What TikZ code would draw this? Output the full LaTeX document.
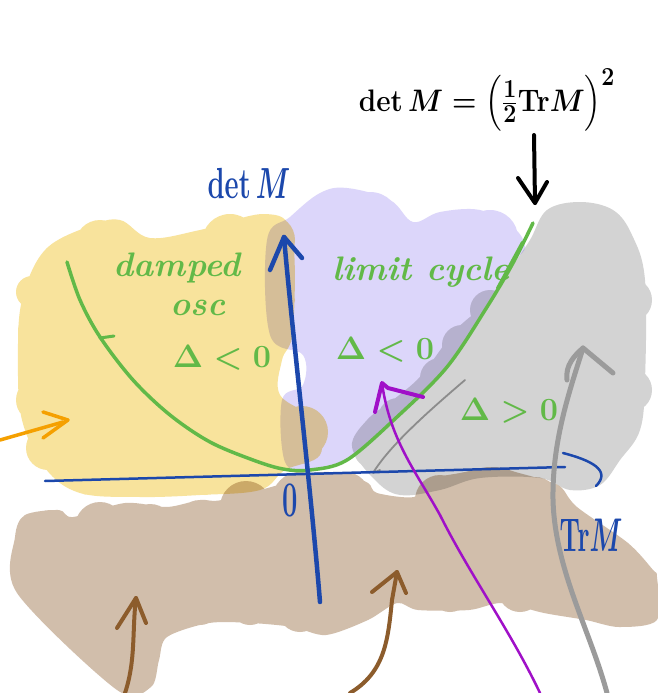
\documentclass[tikz,border=0pt]{standalone}
\usepackage{amsmath}
\usepackage{graphicx}
\definecolor{yelc}{RGB}{248,227,156}
\definecolor{lavc}{RGB}{220,214,250}
\definecolor{grayc}{RGB}{211,211,211}
\definecolor{tanc}{RGB}{209,190,171}
\definecolor{greenc}{RGB}{98,185,72}
\definecolor{bluec}{RGB}{28,72,172}
\definecolor{purplec}{RGB}{160,16,200}
\definecolor{orangec}{RGB}{245,160,0}
\definecolor{brownc}{RGB}{140,92,44}
\definecolor{arrgray}{RGB}{155,155,155}
\definecolor{thingray}{RGB}{140,140,140}
\tikzset{
  blob/.style={blend mode=multiply},
  stroke/.style={line cap=round, line join=round},
  glabel/.style={text=greenc, font=\fontsize{34}{34}\selectfont\bfseries\itshape, inner sep=0pt},
  gmath/.style={text=greenc, font=\Huge\boldmath, inner sep=0pt},
  blabel/.style={text=bluec, font=\Huge\boldmath, inner sep=0pt}
}
\begin{document}
\begin{tikzpicture}[x=1pt,y=-1pt]
\useasboundingbox (0,0) rectangle (657,693);
\fill[white] (0,0) rectangle (657,693);
% ---------- yellow blob
\fill[yelc, blob] plot[smooth cycle, tension=0.6] coordinates {
  (45,250) (90,226) (120,220) (150,238) (200,230) (265,214) (292,235) (293,330)
  (282,360) (280,395) (315,420) (320,455) (285,470) (260,490) (200,495) (140,497)
  (80,493) (45,468) (22,420) (18,360) (22,300)}
  (100,245) circle[radius=25] (230,242) circle[radius=28] (270,240) circle[radius=25]
  (40,330) circle[radius=22] (38,400) circle[radius=22] (90,470) circle[radius=25]
  (150,473) circle[radius=24] (205,472) circle[radius=23] (302,432) circle[radius=26]
  (283,300) circle[radius=12] (32,292) circle[radius=16] (48,448) circle[radius=22];
% ---------- lavender blob
\fill[lavc, blob] plot[smooth cycle, tension=0.6] coordinates {
  (290,217) (320,193) (347,188) (390,200) (413,222) (440,212) (480,210) (513,227)
  (525,247) (513,263) (487,307) (447,367) (397,417) (347,460) (310,470) (285,462)
  (282,400) (303,385) (303,355) (270,335) (267,240)}
  (330,225) circle[radius=32] (370,222) circle[radius=30] (445,240) circle[radius=28]
  (490,238) circle[radius=28];
% ---------- gray blob
\fill[grayc, blob] plot[smooth cycle, tension=0.6] coordinates {
  (530,240) (547,210) (580,202) (613,210) (632,235) (645,280) (645,380) (640,430)
  (620,460) (600,485) (570,490) (540,478) (480,478) (440,490) (400,495) (375,480)
  (352,447) (367,420) (393,400) (417,380) (433,360) (453,333) (470,317) (493,300)
  (510,270)}
  (372,450) circle[radius=18] (398,418) circle[radius=20] (440,378) circle[radius=20]
  (462,345) circle[radius=20] (490,310) circle[radius=20] (630,300) circle[radius=22]
  (630,390) circle[radius=22];
% ---------- tan blob
\fill[tanc, blob] plot[smooth cycle, tension=0.5] coordinates {
  (15,537) (25,515) (59,510) (73,517) (125,503) (167,507) (200,500) (222,500)
  (285,483) (310,473) (343,473) (368,483) (377,493) (414,497) (427,480) (460,473)
  (494,467) (519,473) (544,480) (561,487) (577,507) (628,543) (653,570) (657,577)
  (657,620) (619,627) (586,620) (544,613) (502,603) (469,610) (418,610) (397,603)
  (368,620) (326,635) (293,627) (251,623) (209,623) (167,637) (159,660) (151,687)
  (117,690) (17,593)}
  (100,527) circle[radius=25] (150,529) circle[radius=25] (200,524) circle[radius=24]
  (246,507) circle[radius=26] (300,500) circle[radius=28] (345,497) circle[radius=25]
  (440,500) circle[radius=25] (490,495) circle[radius=28] (535,502) circle[radius=25]
  (50,537) circle[radius=27] (200,605) circle[radius=20] (250,605) circle[radius=20]
  (300,610) circle[radius=22] (450,590) circle[radius=22] (520,590) circle[radius=22]
  (600,600) circle[radius=22];
% ---------- green curve
\draw[greenc, line width=3.5pt, stroke] plot[smooth, tension=0.55] coordinates {
  (67,262) (80,300) (100,337) (133,380) (170,415) (210,442) (253,460) (283,469)
  (310,470) (347,460) (397,417) (447,367) (487,307) (513,263) (533,223)};
\coordinate (hookA) at (100,338);
\coordinate (hookB) at (114,336);
\draw[greenc, line width=3pt, stroke] (hookA) -- (hookB);
\coordinate (dblA) at (497,288);
\coordinate (dblB) at (522,242);
\draw[greenc, line width=2pt, stroke] (dblA) -- (dblB);
% ---------- thin gray line
\coordinate (tgA) at (465,380);
\coordinate (tgB) at (373,473);
\draw[thingray, line width=1.8pt, stroke] (tgA) .. controls (430,410) and (390,445) .. (tgB) -- (380,470);
% ---------- blue axes
\coordinate (hx0) at (45,481);
\coordinate (hx1) at (565,467);
\draw[bluec, line width=2.5pt, stroke] (hx0) -- (hx1);
\draw[bluec, line width=2.5pt, stroke] (563,453) .. controls (590,460) and (612,470) .. (596,486);
\coordinate (vy0) at (320,602);
\coordinate (vyTip) at (284,237);
\draw[bluec, line width=4.5pt, stroke] (vy0) .. controls (310,480) and (292,330) .. (vyTip);
\draw[bluec, line width=4.5pt, stroke] (270,270) -- (vyTip) -- (302,258);
% ---------- purple arrow
\coordinate (pTip) at (382,383);
\draw[purplec, line width=2.5pt, stroke] (540,693) .. controls (510,630) and (470,575) .. (440,515)
  .. controls (415,470) and (390,440) .. (pTip);
\draw[purplec, line width=4pt, stroke] (375,412) -- (pTip) -- (388,388) -- (423,397);
% ---------- gray arrow
\coordinate (gTip) at (583,348);
\draw[arrgray, line width=5pt, stroke] (607,693) .. controls (590,630) and (555,570) .. (553,500)
  .. controls (552,440) and (570,390) .. (gTip);
\draw[arrgray, line width=5pt, stroke] (567,380) .. controls (565,365) and (575,355) .. (gTip) -- (613,373);
% ---------- orange arrow
\coordinate (oTip) at (68,420);
\draw[orangec, line width=3.5pt, stroke] (0,440) -- (63,422);
\draw[orangec, line width=3.5pt, stroke] (43,412) -- (oTip) -- (43,438);
% ---------- brown arrows
\coordinate (b1Tip) at (136,598);
\draw[brownc, line width=4pt, stroke] (125,693) .. controls (136,660) and (132,630) .. (b1Tip);
\draw[brownc, line width=4pt, stroke] (117,628) -- (b1Tip) -- (146,623);
\coordinate (b2Tip) at (397,572);
\draw[brownc, line width=4pt, stroke] (350,693) .. controls (385,672) and (388,640) .. (392,600) -- (b2Tip);
\draw[brownc, line width=4pt, stroke] (372,592) -- (b2Tip) -- (406,593);
% ---------- black arrow
\coordinate (kTop) at (534,135);
\coordinate (kTip) at (535,203);
\draw[black, line width=4pt, stroke] (kTop) -- (kTip);
\draw[black, line width=4pt, stroke] (518,178) -- (kTip) -- (547,182);
% ---------- labels
\node[font=\Huge\boldmath, inner sep=0pt] (formula) at (487,100)
  {\scalebox{1.12}[1.25]{$\det M=\left(\tfrac{1}{2}\mathrm{Tr}M\right)^{2}$}};
\node[blabel] (detlabel) at (249,183) {\scalebox{1.1}[1.75]{$\det M$}};
\node[blabel] (trlabel) at (591,535) {\scalebox{1.05}[1.9]{$\mathrm{Tr}M$}};
\node[blabel] (zero) at (290,500) {\scalebox{1.1}[2.0]{$0$}};
\node[glabel] (damped) at (177,268) {damped};
\node[glabel] (osc) at (198,308) {osc};
\node[gmath] (dl1) at (222,358) {\scalebox{1.3}{$\Delta<0$}};
\node[glabel] (limit) at (421,272) {limit cycle};
\node[gmath] (dl2) at (385,350) {\scalebox{1.3}{$\Delta<0$}};
\node[gmath] (dg) at (509,411) {\scalebox{1.3}{$\Delta>0$}};
\end{tikzpicture}
\end{document}
